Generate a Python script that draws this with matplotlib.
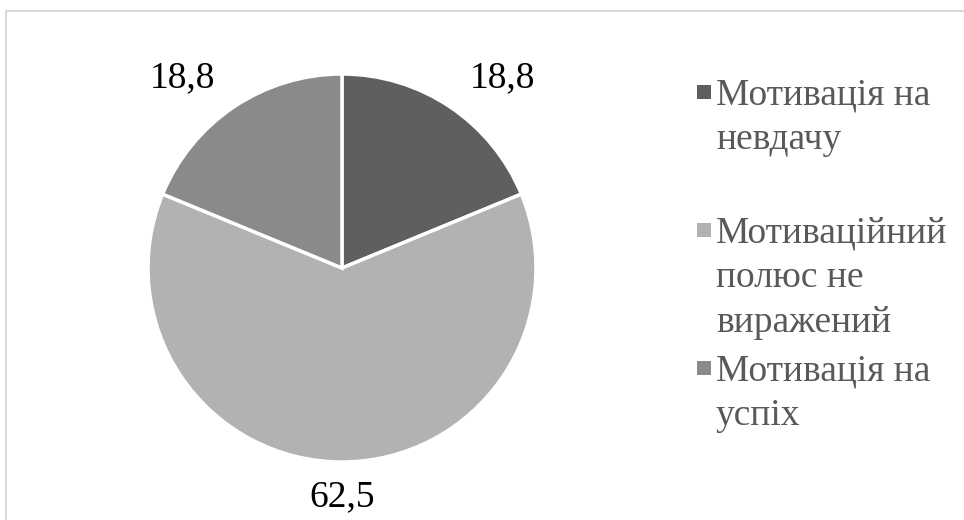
import numpy as np
import matplotlib
matplotlib.use('Agg')
import matplotlib.pyplot as plt
from matplotlib.patches import Rectangle

plt.rcParams['font.family'] = ['Liberation Serif', 'DejaVu Serif']

labels = ['Мотивація на\nневдачу', 'Мотивацiйний\nполюс не\nвиражений', 'Мотивація на\nуспіх']
values = [18.8, 62.5, 18.8]
value_text = ['18,8', '62,5', '18,8']
colors = ['#5f5f5f', '#b2b2b2', '#8a8a8a']

W, H = 964, 520
fig = plt.figure(figsize=(W / 100, H / 100), dpi=100)

# chart border
fig.add_artist(Rectangle((6 / W, -0.1), 1.2, (H - 11) / H + 0.1, transform=fig.transFigure,
                         fill=False, edgecolor='#d9d9d9', linewidth=1.5))

cx, cy, r = 342, 268, 194
ax = fig.add_axes([(cx - r) / W, (H - cy - r) / H, 2 * r / W, 2 * r / H])
wedges, texts = ax.pie(values, colors=colors, startangle=90, counterclock=False,
                       labels=value_text, labeldistance=1.18,
                       wedgeprops=dict(edgecolor='white', linewidth=2.5),
                       textprops=dict(fontsize=27, color='black'))
for t in texts:
    x, y = t.get_position()
    t.set_va('center')
    if abs(x) < 0.05:
        t.set_ha('center')
ax.set_xlim(-1, 1)
ax.set_ylim(-1, 1)
ax.set_aspect('equal')
ax.axis('off')

# legend, drawn by hand to match the spacing (one text per line)
lx, ly0, step, lh = 697, 92, 138, 45
for i, (lab, col) in enumerate(zip(labels, colors)):
    y = ly0 + step * i
    fig.add_artist(Rectangle((lx / W, (H - y - 7) / H), 14 / W, 14 / H,
                             transform=fig.transFigure, facecolor=col, edgecolor='none'))
    for k, line in enumerate(lab.split('\n')):
        fig.text(716 / W, (H - (y + 12 + lh * k)) / H, line, fontsize=27, color='#595959',
                 ha='left', va='baseline')

fig.savefig('out.png', dpi=100)
